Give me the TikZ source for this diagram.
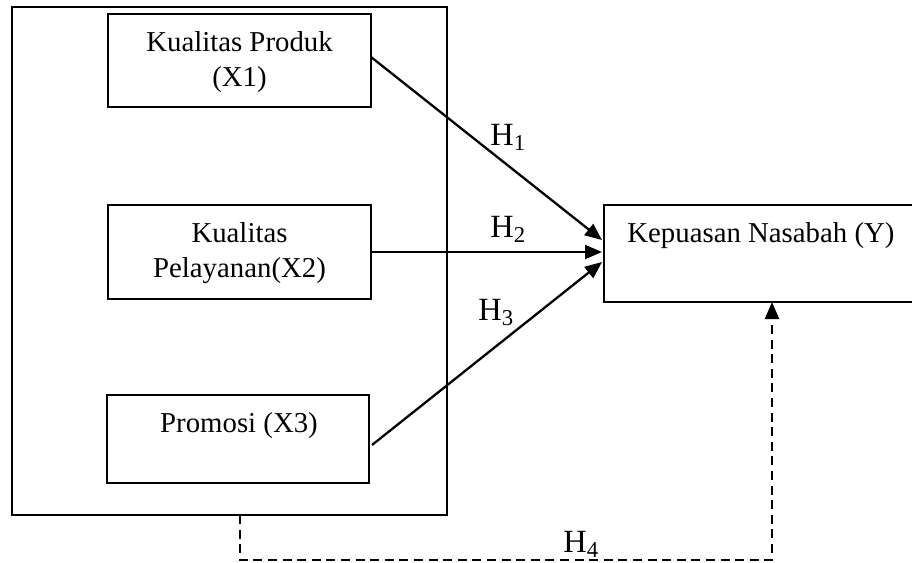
\documentclass[tikz,border=0pt]{standalone}
\usepackage{fontspec}
\setmainfont{Liberation Serif}
\usetikzlibrary{arrows.meta,calc}
\begin{document}
\begin{tikzpicture}[x=0.5pt,y=-0.5pt,
  box/.style={draw=black,line width=1.15pt,rectangle,inner sep=0pt},
  txt/.style={font=\fontsize{14.4}{17.5}\selectfont,align=center,inner sep=0pt},
  hlab/.style={font=\fontsize{16.2}{19}\selectfont,inner sep=0pt,anchor=base west},
  arr/.style={line width=1.15pt,-{Triangle[length=8.5pt,width=7pt]}},
  darr/.style={line width=1.15pt,dash pattern=on 4.5pt off 2.8pt,-{Triangle[length=8.5pt,width=7pt]}}]
\useasboundingbox (0,0) rectangle (912,563);
\clip (0,0) rectangle (912,563);
% outer frame
\node[box,minimum width=217.5pt,minimum height=254pt] (outer) at (229.5,261) {};
% independent variables
\node[box,minimum width=131.5pt,minimum height=46.5pt] (x1) at (239.5,60.5) {};
\node[txt] (t1) at (239.5,62) {Kualitas Produk\\(X1)};
\node[box,minimum width=131.5pt,minimum height=47pt] (x2) at (239.5,252) {};
\node[txt] (t2) at (239.5,253) {Kualitas\\Pelayanan(X2)};
\node[box,minimum width=131pt,minimum height=44pt] (x3) at (238,439) {};
\node[txt,anchor=base] (t3) at (239,432) {Promosi (X3)};
% dependent variable
\node[box,minimum width=160pt,minimum height=48.5pt,anchor=west] (y) at (603,253.5) {};
\node[txt,anchor=base west] (ty) at (627,242) {Kepuasan Nasabah (Y)};
% connectors
\coordinate (s1) at (371,57);
\coordinate (s2) at (371,252);
\coordinate (s3) at (372,445);
\coordinate (e1) at (602,240);
\coordinate (e2) at (602,252);
\coordinate (e3) at (602,262);
\draw[arr] (s1) -- (e1);
\draw[arr] (s2) -- (e2);
\draw[arr] (s3) -- (e3);
\node[hlab] (h1) at (490,145) {H\textsubscript{1}};
\node[hlab] (h2) at (490,237) {H\textsubscript{2}};
\node[hlab] (h3) at (478,320) {H\textsubscript{3}};
% dashed H4
\coordinate (d0) at (240,515);
\coordinate (d1) at (240,560);
\coordinate (d2) at (772,560);
\coordinate (d3) at (772,302);
\draw[darr] (d0) -- (d1) -- (d2) -- (d3);
\node[hlab] (h4) at (563,552) {H\textsubscript{4}};
\end{tikzpicture}
\end{document}
